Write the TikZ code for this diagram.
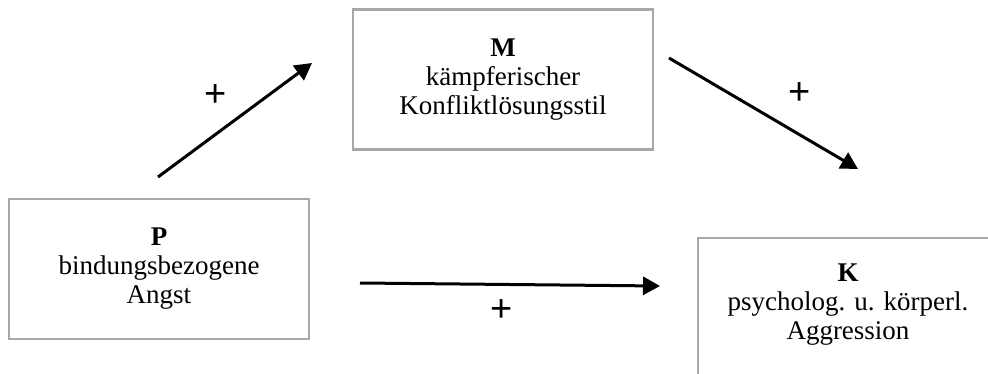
\documentclass[tikz,border=0pt]{standalone}
\usepackage{fontspec}
\setmainfont{Liberation Serif}
\newfontfamily\plusfont{Liberation Sans}
\usetikzlibrary{arrows.meta}
\definecolor{boxgray}{HTML}{A8A8A8}
\tikzset{
  varbox/.style={draw=boxgray, line width=2.8pt, minimum width=300pt, minimum height=140pt,
    inner sep=0pt, align=center, font=\fontsize{27pt}{29pt}\selectfont},
  patharrow/.style={line width=3pt, -{Triangle[length=17pt,width=18pt]}},
  signlabel/.style={font=\plusfont\fontsize{38pt}{40pt}\selectfont, inner sep=0pt}
}
\begin{document}
\begin{tikzpicture}[x=1pt,y=-1pt]
\useasboundingbox (0,0) rectangle (988,374);
\begin{scope}
\clip (0,0) rectangle (988,374);
\node[varbox] (P) at (159,269) {\textbf{P}\\bindungsbezogene\\Angst};
\node[varbox] (M) at (503,79.5) {\textbf{M}\\kämpferischer\\Konfliktlösungsstil};
\node[varbox] (Kbox) at (848,308) {};
\node (K) at (848,305) [align=center, font=\fontsize{27pt}{29pt}\selectfont, inner sep=0pt] {\textbf{K}\\psycholog. u. körperl.\\Aggression};
\end{scope}
\coordinate (a1s) at (158,177);
\coordinate (a1e) at (312,63);
\coordinate (a2s) at (669,58);
\coordinate (a2e) at (858,169);
\coordinate (a3s) at (360,283);
\coordinate (a3e) at (660,286);
\draw[patharrow] (a1s) -- (a1e);
\draw[patharrow] (a2s) -- (a2e);
\draw[patharrow] (a3s) -- (a3e);
\node[signlabel] (s1) at (216,96) {+};
\node[signlabel] (s2) at (800,94) {+};
\node[signlabel] (s3) at (502,311) {+};
\end{tikzpicture}
\end{document}
